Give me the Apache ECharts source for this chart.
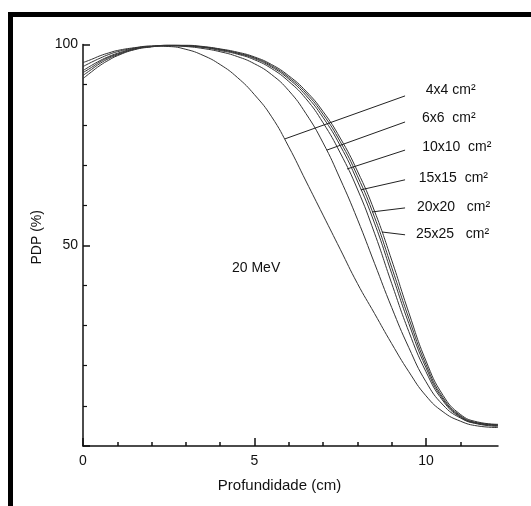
<!DOCTYPE html>
<html>
<head>
<meta charset="utf-8">
<script src="https://cdn.jsdelivr.net/npm/echarts@6/dist/echarts.min.js"></script>
<style>
  html, body { margin: 0; padding: 0; background: #fff; }
  #chart { width: 531px; height: 506px; position: relative; }
  #frame {
    position: absolute; left: 8px; top: 12px; right: 0; bottom: 0;
    border-top: 5px solid #000; border-left: 5px solid #000;
    pointer-events: none;
  }
</style>
</head>
<body>
<div id="chart"></div>
<div id="frame"></div>
<script>
// depth (cm)
const depth = [0, 0.25, 0.5, 0.75, 1, 1.5, 2, 2.5, 3, 3.5, 4, 4.5, 5, 5.5, 6, 6.5, 7, 7.5, 8, 8.5, 9, 9.5, 10, 10.5, 11, 11.5, 12.1];

// PDP (%) per field size
const pdp4x4   = [95.5, 96.3, 97.2, 97.9, 98.5, 99.2, 99.6, 99.5, 98.8, 97.3, 95.0, 91.8, 87.5, 82.0, 74.5, 66.0, 57.5, 49.0, 40.5, 33.0, 25.5, 18.5, 12.5, 8.5, 6.2, 5.0, 4.6];
const pdp6x6   = [94.5, 95.6, 96.6, 97.5, 98.2, 99.1, 99.6, 99.7, 99.5, 99.0, 98.2, 97.0, 95.2, 92.5, 88.5, 82.8, 75.5, 66.5, 56.5, 45.5, 34.5, 24.5, 16.0, 10.2, 7.0, 5.5, 4.9];
const pdp10x10 = [93.5, 94.8, 96.0, 97.0, 97.8, 99.0, 99.5, 99.7, 99.6, 99.3, 98.5, 97.6, 96.2, 94.0, 90.8, 86.5, 80.5, 73.0, 64.0, 53.0, 40.5, 28.5, 18.5, 11.2, 7.2, 5.6, 5.1];
const pdp15x15 = [93.0, 94.3, 95.7, 96.8, 97.6, 98.9, 99.5, 99.7, 99.7, 99.3, 98.7, 97.8, 96.5, 94.4, 91.4, 87.3, 81.8, 74.8, 66.0, 55.5, 43.0, 30.5, 19.5, 11.6, 7.4, 5.7, 5.2];
const pdp20x20 = [92.3, 93.8, 95.3, 96.5, 97.4, 98.8, 99.5, 99.8, 99.7, 99.4, 98.8, 97.9, 96.7, 94.7, 91.8, 87.9, 82.6, 75.8, 67.3, 57.0, 44.5, 31.8, 20.3, 12.0, 7.6, 5.8, 5.3];
const pdp25x25 = [91.5, 93.2, 94.8, 96.1, 97.2, 98.7, 99.4, 99.8, 99.8, 99.5, 98.9, 98.1, 96.9, 95.0, 92.2, 88.4, 83.3, 76.7, 68.5, 58.5, 46.3, 33.2, 21.2, 12.6, 7.9, 6.0, 5.4];

const fieldLabels = ["4x4 cm²", "6x6  cm²", "10x10  cm²", "15x15  cm²", "20x20   cm²", "25x25   cm²"];

// leader lines: point on the curve -> point next to the label
const leaderFrom = [[5.89, 76.5], [7.11, 73.7], [7.70, 69.0], [8.10, 63.8], [8.43, 58.3], [8.72, 53.3]];
const leaderTo   = [[9.39, 87.2], [9.39, 80.7], [9.39, 73.7], [9.39, 66.3], [9.39, 59.3], [9.39, 52.6]];

const xMajorTicks = [0, 5, 10];
const xMinorTicks = [1, 2, 3, 4, 6, 7, 8, 9, 11];

const curves = [pdp4x4, pdp6x6, pdp10x10, pdp15x15, pdp20x20, pdp25x25];

const font = "'Liberation Sans', Arial, sans-serif";
const ink = "#111";
const curveColor = "#333";

// label offsets along each leader line (x, y multipliers of the line direction)
const labelDist = [[22, 18], [18, 12], [18, 10], [14, 9], [12, 8], [11, -8]];

const chart = echarts.init(document.getElementById("chart"), null, { renderer: "canvas" });

const series = curves.map((vals, i) => ({
  name: fieldLabels[i],
  type: "line",
  xAxisIndex: 0,
  data: depth.map((d, j) => [d, vals[j]]),
  showSymbol: false,
  smooth: 0.5,
  lineStyle: { color: curveColor, width: 1 },
  silent: true,
  z: 3,
  markLine: {
    silent: true,
    symbol: "none",
    animation: false,
    lineStyle: { color: "#222", width: 1, type: "solid" },
    label: {
      show: true,
      position: "end",
      formatter: "{b}",
      color: ink,
      fontSize: 14,
      fontFamily: font,
    },
    data: [[
      { name: fieldLabels[i], coord: leaderFrom[i], label: { distance: labelDist[i] } },
      { coord: leaderTo[i] },
    ]],
  },
}));

chart.setOption({
  animation: false,
  backgroundColor: "#fff",
  grid: { left: 83, right: 33, top: 44.5, bottom: 60 },
  xAxis: [
    {
      type: "value",
      min: 0,
      max: 12.1,
      position: "bottom",
      name: "Profundidade (cm)",
      nameLocation: "middle",
      nameGap: 32,
      nameTextStyle: { color: ink, fontSize: 15, fontFamily: font, padding: [0, 22, 0, 0] },
      axisLine: { show: true, onZero: false, lineStyle: { color: ink, width: 1.5 } },
      axisTick: { show: true, inside: true, length: 8, customValues: xMajorTicks, lineStyle: { color: ink, width: 1.5 } },
      axisLabel: { customValues: xMajorTicks, margin: 8, color: ink, fontSize: 14, fontFamily: font },
      splitLine: { show: false },
    },
    {
      type: "value",
      min: 0,
      max: 12.1,
      position: "bottom",
      axisLine: { show: false, onZero: false },
      axisTick: { show: true, inside: true, length: 4, customValues: xMinorTicks, lineStyle: { color: ink, width: 1.5 } },
      axisLabel: { show: false },
      splitLine: { show: false },
    },
  ],
  yAxis: {
    type: "value",
    min: 0,
    max: 100,
    interval: 50,
    name: "PDP (%)",
    nameLocation: "middle",
    nameGap: 31,
    nameTextStyle: { color: ink, fontSize: 14, fontFamily: font, padding: [0, 0, 0, 16] },
    axisLine: { show: true, onZero: false, lineStyle: { color: ink, width: 1.5 } },
    axisTick: { show: true, inside: true, length: 7, lineStyle: { color: ink, width: 1.5 } },
    minorTick: { show: true, splitNumber: 5, length: 4, lineStyle: { color: ink, width: 1.2 } },
    axisLabel: { showMinLabel: false, margin: 5, color: ink, fontSize: 14, fontFamily: font },
    splitLine: { show: false },
    minorSplitLine: { show: false },
  },
  graphic: [
    {
      type: "text",
      left: 232,
      top: 261,
      style: { text: "20 MeV", fill: ink, font: "14px " + font },
    },
  ],
  series: series,
});
</script>
</body>
</html>
